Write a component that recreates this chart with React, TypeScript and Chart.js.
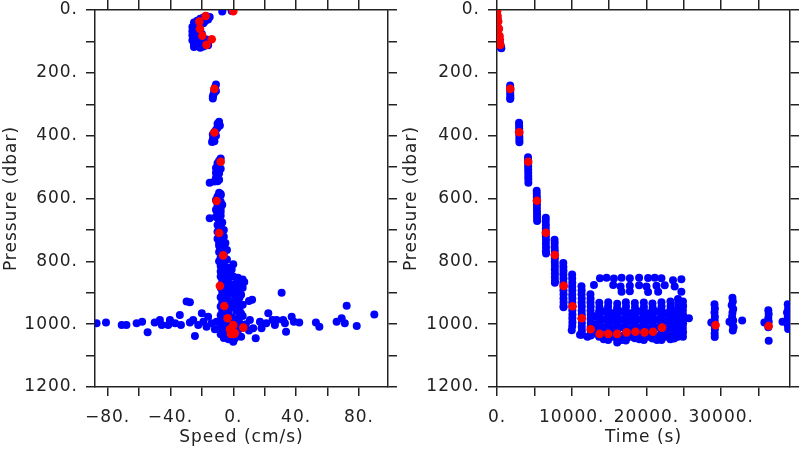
import React, { useEffect, useRef } from 'react';
import { Chart, registerables } from 'chart.js';

Chart.register(...registerables);

// ---------- tick values / labels ----------
const pressureTicks = [0, 100, 200, 300, 400, 500, 600, 700, 800, 900, 1000, 1100, 1200];
const pressureLabels = [0, 200, 400, 600, 800, 1000, 1200];
const speedTicks = [-80, -60, -40, -20, 0, 20, 40, 60, 80];
const speedLabels = [-80, -40, 0, 40, 80];
const timeTicks = [0, 5000, 10000, 15000, 20000, 25000, 30000, 35000];
const timeLabels = [0, 10000, 20000, 30000];

// ---------- left panel: speed (cm/s) vs pressure (dbar) ----------
const speedPressureBlue: [number, number][] = [
  [-7, 5], [-1, 3],
  [-17, 20], [-15, 22], [-19, 24], [-21, 28], [-16, 30], [-23, 34], [-25, 40], [-19, 42], [-24, 48], [-26, 54],
  [-22, 58], [-25, 62], [-26, 68], [-21, 66], [-24, 74], [-26, 80], [-23, 84], [-20, 88], [-25, 90], [-26, 96],
  [-22, 98], [-17, 94], [-24, 104], [-25, 110], [-21, 108], [-16, 104], [-23, 114], [-19, 116], [-25, 118],
  [-21, 120], [-16, 112], [-20, 76], [-22, 46], [-18, 36],
  [-11, 237], [-11.5, 245], [-12, 252], [-12, 260], [-12.5, 268], [-13, 275], [-13, 282], [-11, 258],
  [-9, 356], [-10, 362], [-8.5, 368], [-10, 375], [-11, 382], [-12, 388], [-13, 396], [-11, 400], [-12.5, 405],
  [-13, 412], [-12, 418], [-13.5, 420],
  [-8, 473], [-9, 480], [-10, 488], [-9, 496], [-11, 503], [-10, 510], [-11, 518], [-10, 526], [-11, 534],
  [-9, 540], [-12, 546], [-15, 550], [-8, 505], [-9, 520], [-10, 545],
  [-9, 582], [-8, 590], [-10, 598], [-11, 605], [-9, 614], [-7, 620], [-10, 628], [-11, 636], [-8, 642],
  [-10, 650], [-11, 658], [-15, 663], [-9, 668], [-7, 676], [-10, 684], [-8, 692], [-6, 700], [-10, 706],
  [-8, 716], [-6, 722], [-10, 728], [-8, 736], [-5, 742], [-9, 750], [-7, 758], [-4, 764], [-9, 770],
  [-6, 776], [-8, 788], [-4, 794], [-9, 800], [-6, 804], [0, 809], [-8, 815], [-4, 820], [-1, 826],
  [-8, 586], [-10, 594], [-9, 602], [-8, 610], [-10, 618], [-9, 625], [-8, 632], [-9, 646], [-8, 655],
  [-10, 662], [-8, 680], [-9, 688], [-9, 698], [-7, 710], [-9, 720], [-7, 732], [-9, 742], [-6, 752],
  [-8, 762], [-7, 782], [-6, 798], [-7, 810],
  [-8, 832], [-5, 838], [-2, 842], [-8, 848], [-4, 852], [0, 848], [3, 852], [6, 858], [7, 866], [-7, 864],
  [-3, 868], [1, 872], [4, 868], [-8, 884], [-4, 890], [0, 886], [4, 892], [6, 884], [-7, 898], [-3, 904],
  [1, 900], [5, 906], [-8, 914], [-4, 918], [1, 920], [4, 915], [10, 926], [12, 922], [-7, 930], [-2, 934],
  [3, 930], [6, 938], [-8, 944], [-5, 948], [0, 946], [4, 952], [-7, 960], [-3, 962], [2, 958], [5, 966],
  [-8, 972], [-5, 976], [-1, 978], [3, 982], [6, 974], [-8, 988], [-4, 994], [0, 990], [4, 996], [-8, 1004],
  [-5, 1008], [-2, 1010], [2, 1012], [-7, 1018], [-4, 1022], [0, 1026], [3, 1020], [-8, 1032], [-5, 1036],
  [-1, 1040], [2, 1034], [-6, 1044], [-3, 1048], [0, 1056], [1, 1046], [8, 1000], [10, 1020], [5, 1040],
  [10.6, 987], [12.7, 1013], [-5, 878], [2, 880], [-6, 910], [-1, 940], [-5, 985], [1, 1000],
  [-87, 997], [-81, 995], [-71, 1003], [-68, 1003], [-61.5, 997], [-58, 992], [-54.5, 1026], [-50, 995],
  [-46.7, 987], [-45.5, 1003], [-40.3, 987], [-41.4, 1003], [-37, 997], [-34, 971], [-33.3, 1003],
  [-29.7, 928], [-27.6, 930], [-27.6, 995], [-24.4, 1038], [-25.5, 987], [-22.3, 1003], [-20, 965],
  [-19, 992], [-16, 976], [-17, 1008], [-13.8, 997], [-10.6, 992], [-11.7, 1016],
  [14.3, 1045], [17, 992], [18, 1013], [21, 997], [22.3, 965], [25, 987], [26.5, 1003], [27.6, 987],
  [30.8, 900], [32.9, 997], [33.6, 1024], [31.8, 987], [37.2, 976], [38.6, 992], [42, 995], [52.6, 995],
  [54.8, 1008], [65.8, 992], [69, 981], [71, 997], [72.2, 941], [78.6, 1006], [89.8, 969],
];

const speedPressureRed: [number, number][] = [
  [0, 4], [-17.6, 19], [-21.6, 37], [-21.2, 60], [-19.7, 82], [-13.7, 93], [-17, 111], [-12, 251], [-12, 390],
  [-8, 483], [-10.6, 608], [-9, 710], [-6.4, 781], [-8.5, 878], [-5.7, 942], [-3.6, 981], [0, 1003],
  [-2.1, 1016], [-0.4, 1024], [0.5, 1031], [-1, 1026], [1, 1028], [-1.5, 1031], [6.4, 1011], [-0.8, 1022],
];

// ---------- right panel: time (s) vs pressure (dbar) ----------
const timePressureBlue: [number, number][] = [
  [20, 5], [100, 30], [200, 58], [300, 85], [380, 100], [460, 112], [500, 118], [540, 120], [580, 122],
  [1760, 240], [1770, 248], [1780, 256], [1770, 264], [1780, 272], [1790, 280], [1760, 283],
  [2950, 359], [2960, 368], [2970, 377], [2975, 386], [2980, 395], [2990, 404], [2995, 413], [3000, 421],
  [4150, 469], [4160, 478], [4165, 488], [4170, 498], [4175, 508], [4180, 518], [4185, 528], [4190, 538], [4195, 550],
  [5310, 575], [5320, 585], [5330, 596], [5335, 607], [5340, 618], [5345, 630], [5350, 641], [5355, 652],
  [5360, 662], [5365, 672],
  [6530, 661], [6520, 672], [6540, 684], [6530, 696], [6545, 708], [6535, 720], [6550, 732], [6540, 744],
  [6555, 756], [6545, 768], [6560, 775],
  [7700, 731], [7720, 742], [7710, 754], [7730, 766], [7720, 778], [7740, 790], [7730, 802], [7745, 814],
  [7735, 826], [7750, 838], [7740, 850], [7755, 862], [7745, 868],
  [8870, 805], [8880, 818], [8890, 830], [8880, 842], [8895, 855], [8885, 868], [8900, 880], [8890, 892],
  [8905, 905], [8895, 918], [8910, 930], [8900, 942], [8905, 946],
  [10050, 842], [10060, 855], [10070, 868], [10060, 880], [10075, 893], [10065, 906], [10080, 918],
  [10070, 931], [10085, 944], [10075, 956], [10090, 969], [10080, 981], [10090, 994], [10070, 1006], [10000, 1019],
  [11300, 879], [11320, 892], [11310, 905], [11330, 918], [11320, 931], [11340, 944], [11330, 957],
  [11345, 970], [11335, 983], [11350, 996], [11340, 1009], [11355, 1022], [11107, 1034], [11330, 1034],
  [12500, 905], [12520, 918], [12510, 931], [12530, 944], [12520, 957], [12540, 970], [12530, 983],
  [12545, 996], [12535, 1009], [12550, 1022], [12540, 1036], [12100, 1040],
  [13680, 932], [13700, 946], [13660, 960], [13690, 974], [13670, 988], [13700, 1002], [13680, 1016], [13690, 1030], [13670, 1040],
  [14880, 930], [14860, 944], [14890, 958], [14870, 972], [14900, 986], [14880, 1000], [14860, 1014], [14890, 1028], [14880, 1042], [14870, 1050],
  [16080, 935], [16060, 949], [16090, 963], [16070, 977], [16100, 991], [16080, 1005], [16060, 1019], [16090, 1033], [16080, 1047], [16080, 1058],
  [17240, 930], [17260, 944], [17230, 958], [17250, 972], [17240, 986], [17260, 1000], [17230, 1014], [17250, 1028], [17240, 1042], [17240, 1052],
  [18440, 933], [18460, 947], [18430, 961], [18450, 975], [18440, 989], [18460, 1003], [18430, 1017], [18450, 1031], [18440, 1045],
  [19640, 931], [19660, 945], [19630, 959], [19650, 973], [19640, 987], [19660, 1001], [19630, 1015], [19650, 1029], [19640, 1043], [19640, 1050],
  [20800, 934], [20820, 948], [20790, 962], [20810, 976], [20800, 990], [20820, 1004], [20790, 1018], [20810, 1032], [20800, 1046],
  [22000, 930], [22020, 944], [21990, 958], [22010, 972], [22000, 986], [22020, 1000], [21990, 1014], [22010, 1028], [22000, 1042], [22000, 1050],
  [23200, 928], [23220, 942], [23190, 956], [23210, 970], [23200, 984], [23220, 998], [23190, 1012], [23210, 1026], [23200, 1040], [23200, 1048],
  [24213, 920], [24230, 935], [24200, 950], [24220, 965], [24210, 980], [24230, 995], [24200, 1010], [24220, 1025], [24210, 1040],
  [24880, 928], [24900, 942], [24870, 956], [24890, 970], [24880, 984], [24900, 998], [24870, 1012], [24890, 1026], [24880, 1040],
  [13100, 1000], [13100, 1030], [14280, 985], [14280, 1010], [14280, 1035], [15480, 990], [15480, 1015],
  [15480, 1040], [16660, 985], [16660, 1010], [16660, 1038], [17840, 990], [17840, 1015], [17840, 1040],
  [19040, 985], [19040, 1010], [19040, 1035], [20220, 990], [20220, 1015], [20220, 1040], [21400, 985],
  [21400, 1010], [21400, 1038], [22600, 990], [22600, 1015], [22600, 1040], [23700, 985], [23700, 1010], [23700, 1035],
  [13100, 975], [14280, 960], [15480, 965], [16660, 960], [17840, 965], [19040, 960], [20220, 965],
  [21400, 960], [22600, 965], [23700, 960], [24550, 1000], [24550, 1030], [12950, 1020],
  [14280, 1048], [16660, 1050], [19040, 1048], [21400, 1050], [23700, 1046],
  [13773, 854], [14667, 852], [15640, 855], [16667, 852], [17773, 854], [19013, 852], [20213, 853],
  [21107, 852], [22000, 854], [23547, 860], [24667, 857],
  [12973, 875], [15547, 875], [16533, 880], [17773, 878], [19013, 876], [20000, 880], [21333, 878],
  [22440, 876], [23773, 880],
  [16667, 897], [17773, 895], [20213, 898], [21560, 897], [24667, 897],
  [25680, 981],
  [29100, 937], [29150, 950], [29100, 963], [29150, 976], [29120, 989], [29100, 1003], [29150, 1016],
  [29120, 1030], [29130, 1041], [28670, 995],
  [31500, 916], [31550, 928], [31400, 940], [31600, 952], [31500, 964], [31450, 976], [31600, 988],
  [31100, 992], [31500, 1000], [31650, 1010], [31550, 1020], [32800, 988],
  [36300, 956], [36350, 968], [36300, 980], [36350, 992], [35770, 995], [36300, 1010], [36350, 1053],
  [38900, 937], [38950, 950], [38800, 963], [38900, 976], [38200, 992], [38850, 990], [38900, 1003], [38950, 1015],
];

const timePressureRed: [number, number][] = [
  [0, 5], [80, 19], [160, 37], [250, 60], [330, 82], [370, 93], [440, 111],
  [1773, 251], [2973, 389], [4173, 483], [5333, 607], [6533, 709], [7733, 780], [8920, 878], [10100, 943],
  [11333, 981], [12533, 1016], [13730, 1031], [14880, 1031], [16080, 1031], [17333, 1026], [18533, 1024],
  [19733, 1026], [20880, 1024], [22080, 1011], [29240, 1003], [36347, 1006],
];

// ---------- styling ----------
const FONT = 'DejaVu Sans';
const INK = '#222';
const BLUE = '#0000ff';
const RED = '#ff0000';

const fmt = (v: number) => (v < 0 ? '\u2212' + Math.abs(v) : String(v)) + '.';

const spacingPlugin = {
  id: 'letterSpacing',
  beforeLayout(chart: any) { chart.ctx.letterSpacing = '1px'; },
  beforeDraw(chart: any) { chart.ctx.letterSpacing = '1px'; },
};

function gridOpts(len: number) {
  return {
    drawOnChartArea: false,
    drawTicks: true,
    tickLength: len,
    color: INK,
    tickColor: INK,
    tickWidth: 1.5,
    lineWidth: 1.5,
  };
}
const borderOpts = { display: true, color: INK, width: 1.5 };

const noPad = (s: any) => {
  s.paddingTop = 0;
  s.paddingBottom = 0;
  s.paddingLeft = 0;
  s.paddingRight = 0;
};

function makeConfig(p: {
  blue: [number, number][];
  red: [number, number][];
  xMin: number; xMax: number;
  xTicks: number[]; xLabels: number[];
  xTitle: string;
  leftW: number; rightW: number;
}): any {
  const tickFont = { family: FONT, size: 17 };
  return {
    type: 'scatter',
    data: {
      datasets: [
        {
          label: 'mean',
          data: p.red.map(([x, y]) => ({ x, y })),
          pointRadius: 4.3,
          pointBackgroundColor: RED,
          pointBorderWidth: 0,
          showLine: false,
        },
        {
          label: 'samples',
          data: p.blue.map(([x, y]) => ({ x, y })),
          pointRadius: 4,
          pointBackgroundColor: BLUE,
          pointBorderWidth: 0,
          showLine: false,
        },
      ],
    },
    options: {
      animation: false,
      responsive: false,
      devicePixelRatio: 1,
      layout: { padding: 0 },
      events: [],
      plugins: { legend: { display: false }, tooltip: { enabled: false } },
      scales: {
        x: {
          type: 'linear', position: 'bottom', min: p.xMin, max: p.xMax,
          afterBuildTicks: (s: any) => { s.ticks = p.xTicks.map((v) => ({ value: v })); },
          afterFit: (s: any) => { s.height = 63; noPad(s); },
          ticks: {
            callback: (v: number) => (p.xLabels.includes(v) ? fmt(v) : ''),
            font: tickFont, color: INK, padding: 11, maxRotation: 0, autoSkip: false,
          },
          grid: gridOpts(9),
          border: borderOpts,
          title: { display: true, text: p.xTitle, font: tickFont, color: INK, padding: { top: 0, bottom: 2 } },
        },
        x2: {
          type: 'linear', position: 'top', min: p.xMin, max: p.xMax,
          afterBuildTicks: (s: any) => { s.ticks = p.xTicks.map((v) => ({ value: v })); },
          afterFit: (s: any) => { s.height = 10; noPad(s); },
          ticks: { display: false },
          grid: gridOpts(10),
          border: borderOpts,
        },
        y: {
          type: 'linear', position: 'left', reverse: true, min: 0, max: 1200,
          afterBuildTicks: (s: any) => { s.ticks = pressureTicks.map((v) => ({ value: v })); },
          afterFit: (s: any) => { s.width = p.leftW; noPad(s); },
          ticks: {
            callback: (v: number) => (pressureLabels.includes(v) ? fmt(v) : ''),
            font: tickFont, color: INK, padding: 8, autoSkip: false,
          },
          grid: gridOpts(9),
          border: borderOpts,
          title: { display: true, text: 'Pressure (dbar)', font: tickFont, color: INK, padding: { top: 1, bottom: 0 } },
        },
        y2: {
          type: 'linear', position: 'right', reverse: true, min: 0, max: 1200,
          afterBuildTicks: (s: any) => { s.ticks = pressureTicks.map((v) => ({ value: v })); },
          afterFit: (s: any) => { s.width = p.rightW; noPad(s); },
          ticks: { display: false },
          grid: gridOpts(9),
          border: borderOpts,
        },
      },
    },
    plugins: [spacingPlugin],
  };
}

function Panel(props: { cfg: any; left: number }) {
  const ref = useRef<HTMLCanvasElement | null>(null);
  useEffect(() => {
    if (!ref.current) return;
    const chart = new Chart(ref.current, props.cfg);
    return () => chart.destroy();
  }, []);
  return (
    <canvas
      ref={ref}
      width={400}
      height={450}
      style={{ position: 'absolute', left: props.left, top: 0, width: 400, height: 450 }}
    />
  );
}

export default function App() {
  const leftCfg = makeConfig({
    blue: speedPressureBlue, red: speedPressureRed,
    xMin: -88, xMax: 98.5, xTicks: speedTicks, xLabels: speedLabels,
    xTitle: 'Speed (cm/s)', leftW: 95, rightW: 12,
  });
  const rightCfg = makeConfig({
    blue: timePressureBlue, red: timePressureRed,
    xMin: 0, xMax: 39200, xTicks: timeTicks, xLabels: timeLabels,
    xTitle: 'Time (s)', leftW: 97, rightW: 10,
  });
  return (
    <div style={{ position: 'absolute', left: 0, top: 0, width: 800, height: 450, background: '#fff', overflow: 'hidden' }}>
      <Panel cfg={leftCfg} left={0} />
      <Panel cfg={rightCfg} left={400} />
    </div>
  );
}
